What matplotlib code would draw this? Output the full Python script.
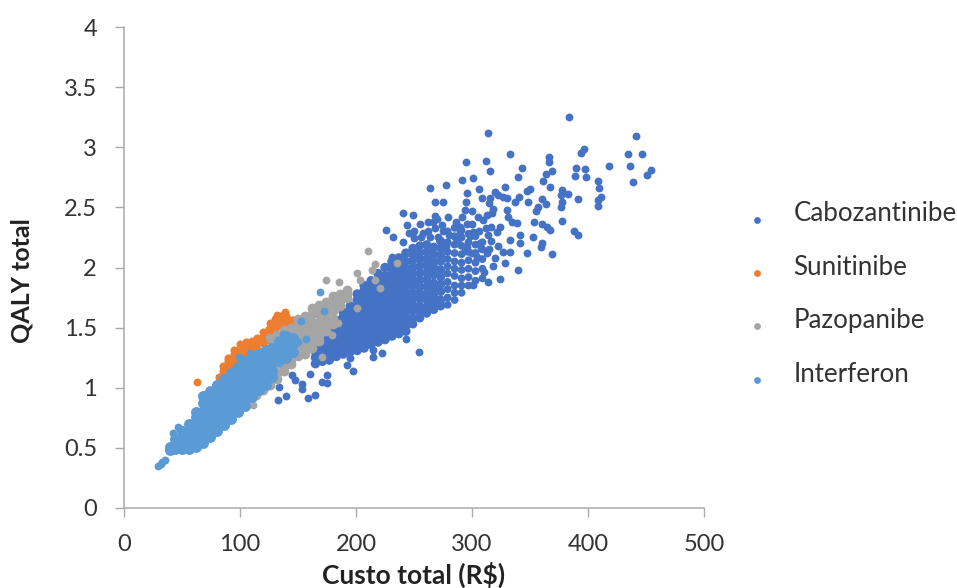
import matplotlib
matplotlib.use("Agg")
import matplotlib.pyplot as plt

plt.rcParams['font.family'] = ['Lato', 'DejaVu Sans']

series_names = ["Cabozantinibe", "Sunitinibe", "Pazopanibe", "Interferon"]
series_colors = ["#4472C4", "#ED7D31", "#A5A5A5", "#5B9BD5"]
x_ticks = [0, 100, 200, 300, 400, 500]
y_ticks = [0, 0.5, 1, 1.5, 2, 2.5, 3, 3.5, 4]
y_tick_labels = ["0", "0.5", "1", "1.5", "2", "2.5", "3", "3.5", "4"]

cabo_sparse = [
 (383.9,3.249),(314.1,3.121),(441.4,3.094),(332.8,2.941),(396.6,2.985),(393.7,2.949),(434.2,2.947),(446.9,2.941),
 (366.1,2.916),(366.4,2.875),(294.6,2.880),(312.1,2.889),(315.5,2.805),(342.8,2.827),(418.4,2.844),(436.5,2.847),
 (454.1,2.811),(451.2,2.772),(438.5,2.714),(389.4,2.825),(397.2,2.816),(388.8,2.758),(398.3,2.750),(368.7,2.800),
 (363.5,2.778),(361.5,2.719),(339.4,2.750),(291.1,2.730),(300.9,2.744),(277.9,2.686),(263.8,2.661),(296.0,2.622),
 (306.1,2.653),(328.8,2.667),(367.3,2.667),(408.4,2.719),(409.8,2.658),(350.0,2.656),(347.2,2.633),(377.3,2.645),
 (382.5,2.609),(376.8,2.603),(391.7,2.572),(411.2,2.584),(409.0,2.561),(409.0,2.514),(377.3,2.547),(376.8,2.500),
 (348.0,2.545),(360.7,2.570),(363.8,2.528),(357.2,2.506),(355.2,2.470),(340.5,2.589),(337.0,2.547),(377.3,2.387),
 (388.3,2.301),(391.7,2.270),(353.8,2.376),(360.1,2.362),(364.4,2.334),(367.6,2.312),(352.3,2.256),(360.7,2.207),
 (359.2,2.173),(369.0,2.115),(339.4,1.977),(327.0,2.590),(322.7,2.600),(329.9,2.575),(319.9,2.630),(315.5,2.575),
 (315.0,2.534),(308.4,2.575),(294.6,2.548),(275.3,2.545),(268.1,2.548),(294.0,2.478),(291.1,2.423),(240.5,2.453),
 (249.4,2.439),(243.7,2.354),(255.2,2.362),(268.1,2.431),(279.6,2.423),(266.7,2.381),(273.9,2.354),(312.7,2.437),
 (309.8,2.395),(317.0,2.450),(329.9,2.478),(331.3,2.423),(334.2,2.381),(338.5,2.367),(324.2,2.340),(321.3,2.298),
 (314.1,2.270),(341.4,2.270),(332.8,2.229),(341.4,2.200),(347.2,2.123),(332.8,2.132),(327.0,2.132),(328.5,2.035),
 (319.9,2.076),(324.2,1.902),(314.1,1.882),(301.2,1.855),(258.0,2.284),(263.8,2.256),(271.0,2.256),(289.7,2.340),
 (301.2,2.298),(306.9,2.201),(312.7,2.118),(304.0,2.090),(295.4,2.173),(318.0,2.010),(310.0,1.960),(322.0,2.180),
 (316.0,2.340),(305.0,2.420),(300.0,2.470),(318.0,2.490),
 (133.0,0.899),(139.7,0.932),(159.0,0.912),(164.7,0.940),(133.6,1.009),(153.2,1.032),(153.2,0.987),(170.4,1.051),
 (175.3,1.037),(175.3,1.106),(144.6,1.106),(147.4,1.065),(160.4,1.115),(197.7,1.142),(192.0,1.190),(194.9,1.245),
 (215.0,1.253),(222.2,1.286),(215.0,1.314),(242.8,1.408),(254.0,1.298),(240.2,2.215),(250.3,2.243),(230.8,2.090),
 (225.6,2.007),(226.0,2.310),(232.0,2.250),(246.0,2.290),
 (262.0,2.300),(268.0,2.330),(275.0,2.300),(280.0,2.270),(286.0,2.380),(290.0,2.300),(296.0,2.360),(298.0,2.260),
 (285.0,2.250),(270.0,2.400),(262.0,2.380),(250.0,2.300),(256.0,2.250),(272.0,2.220),(278.0,2.180),(288.0,2.200),
 (294.0,2.140),(300.0,2.120),(306.0,2.300),(312.0,2.330),(316.0,2.220),(300.0,2.360),(308.0,2.160),(315.0,2.150),
]
cabo_core_x = [165,171,177,183,189,195,201,207,213,219,225,231,237,243,249,255,261,267,273,279,285,291,297,303,309]
cabo_core_y = [
 [1.20,1.25,1.30,1.35],
 [1.22,1.27,1.32,1.37,1.43],
 [1.23,1.28,1.33,1.38,1.43,1.49],
 [1.26,1.31,1.36,1.41,1.46,1.52,1.56],
 [1.28,1.33,1.38,1.43,1.49,1.54,1.59,1.63],
 [1.30,1.35,1.41,1.46,1.51,1.56,1.62,1.68],
 [1.31,1.37,1.42,1.47,1.53,1.58,1.63,1.68,1.73,1.78],
 [1.33,1.39,1.44,1.49,1.54,1.60,1.65,1.70,1.75,1.81,1.85],
 [1.36,1.41,1.46,1.51,1.57,1.62,1.67,1.72,1.78,1.83,1.89],
 [1.38,1.43,1.48,1.53,1.59,1.64,1.69,1.74,1.80,1.85,1.90,1.95],
 [1.40,1.45,1.50,1.56,1.61,1.66,1.72,1.77,1.82,1.87,1.93,2.00],
 [1.43,1.48,1.53,1.58,1.63,1.69,1.74,1.79,1.84,1.90,1.95,2.00,2.05],
 [1.45,1.51,1.56,1.61,1.66,1.71,1.76,1.82,1.87,1.92,1.97,2.03,2.08],
 [1.47,1.52,1.58,1.63,1.68,1.73,1.79,1.84,1.89,1.94,1.99,2.05,2.12],
 [1.53,1.58,1.64,1.69,1.74,1.79,1.85,1.90,1.95,2.00,2.06,2.11,2.16],
 [1.58,1.63,1.68,1.74,1.79,1.84,1.89,1.95,2.01,2.07,2.12,2.18],
 [1.62,1.67,1.73,1.78,1.84,1.90,1.96,2.02,2.07,2.13,2.19],
 [1.65,1.70,1.76,1.82,1.87,1.94,2.00,2.05,2.11,2.17],
 [1.68,1.73,1.80,1.86,1.92,1.98,2.05,2.10,2.16,2.22],
 [1.69,1.75,1.82,1.88,1.95,2.01,2.07,2.13,2.21,2.30],
 [1.73,1.79,1.85,1.93,1.99,2.05,2.12,2.19,2.26,2.33],
 [1.79,1.85,1.91,1.98,2.04,2.11,2.18,2.25,2.31],
 [1.85,1.92,1.99,2.06,2.13,2.21,2.28],
 [1.89,1.97,2.04,2.12,2.19,2.26],
 [1.91,1.99,2.07,2.15,2.21],
]

suni_extra = [(62.7,1.045),(138.8,1.633),(131.6,1.605),(126.0,1.536),(146.0,1.564)]
suni_core_x = [82,85,90,95,100,105,110,115,120,125,130,135,140,145]
suni_core_y = [
 [1.05,1.09],[1.09,1.14,1.18],[1.13,1.18,1.22,1.25],[1.18,1.23,1.28,1.31],[1.23,1.28,1.33,1.36],
 [1.27,1.32,1.36,1.38],[1.30,1.34,1.38,1.39],[1.32,1.37,1.41],[1.37,1.42,1.46],[1.40,1.45,1.49],
 [1.44,1.49,1.54,1.57],[1.51,1.56,1.60],[1.54,1.58,1.60],[1.54,1.56],
]

pazo_extra = [(174.2,1.896),(185.4,1.882),(200.6,1.952),(210.7,2.140),(216.4,2.029),(213.5,1.980),(203.5,1.896),
 (216.4,1.896),(220.7,1.827),(235.1,2.040),(200.6,1.661),(171.0,1.259),(110.9,0.857),(184.8,1.536),(179.0,1.439),
 (100.0,0.840),(106.0,0.890),(180.0,1.700),(190.0,1.770)]
pazo_core_x = [114,120,126,132,138,144,150,156,162,168,174,180,186,192]
pazo_core_y = [
 [0.94,1.00,1.10],[0.98,1.03,1.12,1.22,1.30],[1.02,1.07,1.16,1.25,1.33,1.41],[1.07,1.12,1.20,1.29,1.37,1.44],
 [1.14,1.18,1.26,1.34,1.42,1.48],[1.20,1.24,1.31,1.38,1.45,1.50],[1.26,1.30,1.36,1.42,1.48,1.54,1.57],
 [1.28,1.32,1.38,1.44,1.50,1.56,1.60],[1.33,1.37,1.43,1.49,1.55,1.61,1.66],[1.39,1.43,1.49,1.55,1.61,1.66,1.69],
 [1.47,1.51,1.57,1.63,1.68,1.71],[1.53,1.57,1.64,1.71,1.76],[1.68,1.72,1.78],[1.75,1.78,1.81],
]

inter_extra = [(29.6,0.350),(31.5,0.365),(33.0,0.386),(35.5,0.400),(42.5,0.620),(46.8,0.677),(169.0,1.800),(153.0,1.558),
 (157.0,1.406),(172.4,1.641),(136.8,1.445),(99.4,1.259),(108.6,1.286),(113.0,1.275),(144.0,1.420),(150.0,1.380)]
inter_core_x = [40,44,50,56,62,68,74,80,86,92,98,104,110,116,122,128,134,140,146]
inter_core_y = [
 [0.48,0.51],[0.49,0.53,0.57],[0.49,0.53,0.60,0.64],[0.49,0.53,0.59,0.66,0.70],[0.51,0.55,0.62,0.69,0.76,0.80],
 [0.54,0.59,0.66,0.73,0.80,0.87,0.93],[0.59,0.64,0.71,0.78,0.85,0.92,0.97],[0.64,0.69,0.76,0.83,0.90,0.97,1.02],
 [0.69,0.74,0.81,0.88,0.95,1.02,1.07],[0.74,0.79,0.86,0.93,1.00,1.07,1.12],[0.80,0.85,0.92,0.99,1.06,1.13,1.17],
 [0.85,0.90,0.97,1.04,1.11,1.18,1.22],[0.92,0.97,1.04,1.11,1.18,1.24,1.26],[0.98,1.03,1.10,1.17,1.24,1.28],
 [1.02,1.07,1.14,1.21,1.28,1.31],[1.09,1.14,1.21,1.28,1.33],[1.22,1.27,1.34,1.39],[1.25,1.33,1.40,1.43],
 [1.30,1.36,1.41],
]
core_sizes = [46, 34, 50, 62]
sparse_size = 32
cabo_mid_from = 249
cabo_open_from = 279
cabo_mid_size = 42


def flatten(core_x, core_y):
    xs, ys = [], []
    for cx, col in zip(core_x, core_y):
        xs += [cx] * len(col)
        ys += col
    return xs, ys


fig = plt.figure(figsize=(9.57, 5.88), dpi=100)
ax = fig.add_axes([124/957, 80/588, 580/957, 481/588])
extras = [cabo_sparse, suni_extra, pazo_extra, inter_extra]
cores = [(cabo_core_x, cabo_core_y), (suni_core_x, suni_core_y), (pazo_core_x, pazo_core_y), (inter_core_x, inter_core_y)]
handles = []
for extra, core, name, color, size in zip(extras, cores, series_names, series_colors, core_sizes):
    h = ax.scatter([p[0] for p in extra], [p[1] for p in extra], s=sparse_size, color=color, linewidths=0, label=name, clip_on=False)
    handles.append(h)
    cx, cy = flatten(*core)
    if name == series_names[0]:
        sizes = [size if v < cabo_mid_from else cabo_mid_size if v < cabo_open_from else sparse_size for v in cx]
        ax.scatter(cx, cy, s=sizes, color=color, linewidths=0)
    else:
        ax.scatter(cx, cy, s=size, color=color, linewidths=0)

ax.set_xlim(0, 500)
ax.set_ylim(0, 4)
ax.set_xticks(x_ticks)
ax.set_yticks(y_ticks)
ax.set_yticklabels(y_tick_labels)
ax.tick_params(axis='x', pad=12)
ax.tick_params(axis='y', pad=13)
ax.tick_params(axis='both', labelsize=17, length=6.5, width=1, color="#ABABAB", labelcolor="#333333")
for s in ['top', 'right']:
    ax.spines[s].set_visible(False)
for s in ['left', 'bottom']:
    ax.spines[s].set_color("#ABABAB")
    ax.spines[s].set_linewidth(1.1)
fig.text(414/957, 1 - 575/588, "Custo total (R$)", fontsize=19, fontweight='bold', ha='center', va='center', color="#222222")
fig.text(22/957, 1 - 281/588, "QALY total", fontsize=18, fontweight='bold', rotation=90, ha='center', va='center', color="#222222")

leg = fig.legend(handles=handles, loc='center left', bbox_to_anchor=(744/957, 1 - 294/588), frameon=False,
                 fontsize=18.6, labelspacing=1.1, handlelength=1.0, handletextpad=0.92, borderpad=0, borderaxespad=0,
                 scatterpoints=1, scatteryoffsets=[0.1])
for t in leg.get_texts():
    t.set_color("#333333")
for h in leg.legend_handles:
    h.set_sizes([24])
fig.savefig("out.png", dpi=100)
